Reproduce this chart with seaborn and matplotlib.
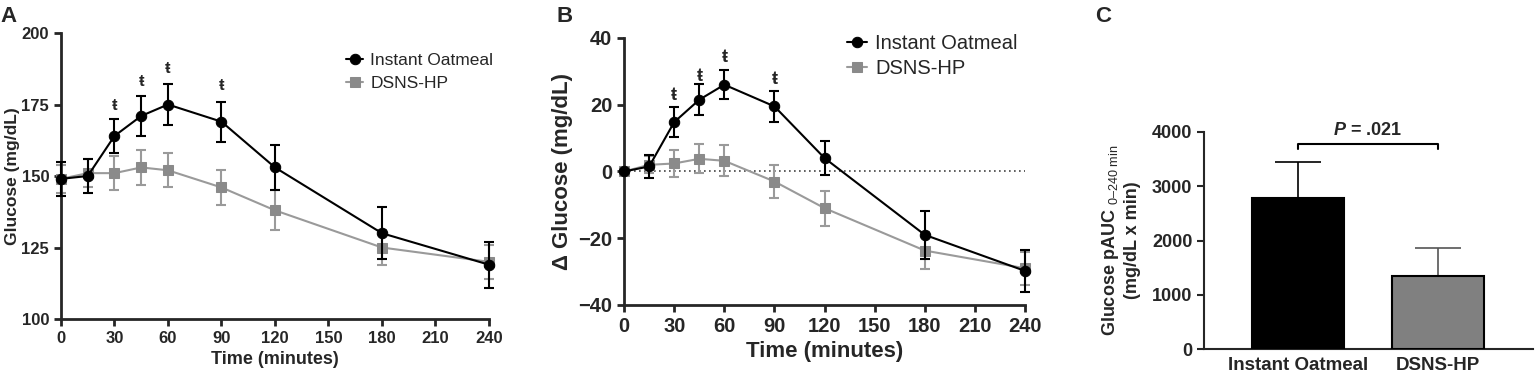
import numpy as np
import pandas as pd
import matplotlib
matplotlib.use("Agg")
import matplotlib.pyplot as plt
import seaborn as sns

sns.set_style("ticks")
plt.rcParams["font.family"] = ["Liberation Sans", "DejaVu Sans"]
plt.rcParams["mathtext.fontset"] = "custom"
plt.rcParams["mathtext.rm"] = "Liberation Sans"
plt.rcParams["mathtext.it"] = "Liberation Sans:italic:bold"

# Datos
time_min = [0, 15, 30, 45, 60, 90, 120, 180, 240]
time_ticks = [0, 30, 60, 90, 120, 150, 180, 210, 240]

oat_glucose = [149, 150, 164, 171, 175, 169, 153, 130, 119]
oat_glucose_se = [6, 6, 6, 7, 7, 7, 8, 9, 8]
dsns_glucose = [149, 151, 151, 153, 152, 146, 138, 125, 120]
dsns_glucose_se = [5, 5, 6, 6, 6, 6, 7, 6, 6]

oat_delta = [0, 1.5, 14.8, 21.5, 26, 19.5, 4, -19, -29.8]
oat_delta_se = [0, 3.5, 4.5, 4.7, 4.3, 4.7, 5.1, 7.1, 6.3]
dsns_delta = [0, 2, 2.4, 3.8, 3.2, -3, -11, -23.7, -29]
dsns_delta_se = [0, 2.5, 4, 4.4, 4.7, 4.8, 5.3, 5.5, 5]

sig_times = [30, 45, 60, 90]
sig_y_a = [174.5, 183, 187.5, 181.5]
sig_y_b = [22.8, 28.5, 34.3, 27.5]

groups = ["Instant Oatmeal", "DSNS-HP"]
pauc = [2780, 1350]
pauc_se = [675, 505]
p_text = "= .021"

BLACK = "#000000"
GREY_LINE = "#9a9a9a"
GREY_MARK = "#8a8a8a"
GREY_BAR = "#808080"

fig = plt.figure(figsize=(15.36, 3.75), dpi=100)
ax_a = fig.add_axes([0.0397, 0.1493, 0.2786, 0.7627])
ax_b = fig.add_axes([0.4063, 0.1867, 0.2611, 0.712])
ax_c = fig.add_axes([0.7839, 0.0693, 0.2142, 0.5787])


def curve_panel(ax, oat, oat_se, dsns, dsns_se, fs_tick, fs_lab):
    df = pd.DataFrame({"t": time_min, "oat": oat, "dsns": dsns})
    ax.errorbar(time_min, dsns, yerr=dsns_se, fmt="none", ecolor=GREY_LINE,
                elinewidth=1.5, capsize=3.5, capthick=1.5, clip_on=False, zorder=2)
    sns.lineplot(data=df, x="t", y="dsns", ax=ax, color=GREY_LINE, lw=1.5,
                 marker="s", markersize=6.5, markerfacecolor=GREY_MARK,
                 markeredgecolor=GREY_MARK, label="DSNS-HP", clip_on=False, zorder=3)
    ax.errorbar(time_min, oat, yerr=oat_se, fmt="none", ecolor=BLACK,
                elinewidth=1.5, capsize=3.5, capthick=1.5, clip_on=False, zorder=4)
    sns.lineplot(data=df, x="t", y="oat", ax=ax, color=BLACK, lw=1.5,
                 marker="o", markersize=7.5, markerfacecolor=BLACK,
                 markeredgecolor=BLACK, label="Instant Oatmeal", clip_on=False, zorder=5)
    ax.set_xlim(0, 240)
    ax.set_xticks(time_ticks)
    ax.set_xlabel("Time (minutes)", fontsize=fs_lab, fontweight="bold")
    for s in ["top", "right"]:
        ax.spines[s].set_visible(False)
    for s in ["left", "bottom"]:
        ax.spines[s].set_linewidth(2)
    ax.tick_params(width=2, length=5, labelsize=fs_tick)
    h, l = ax.get_legend_handles_labels()
    return h, l


h, l = curve_panel(ax_a, oat_glucose, oat_glucose_se, dsns_glucose, dsns_glucose_se, 12, 13)
ax_a.set_ylim(100, 200)
ax_a.set_yticks([100, 125, 150, 175, 200])
ax_a.set_ylabel("Glucose (mg/dL)", fontsize=12.5, fontweight="bold", labelpad=1)
ax_a.legend([h[1], h[0]], [l[1], l[0]], loc="upper left", bbox_to_anchor=(0.65, 0.955),
            frameon=False, fontsize=12.5, handlelength=1.0, handletextpad=0.4,
            labelspacing=0.45, borderaxespad=0)
for t, y in zip(sig_times, sig_y_a):
    ax_a.text(t, y, "ŧ", ha="center", va="center", fontsize=12, fontweight="bold")

h, l = curve_panel(ax_b, oat_delta, oat_delta_se, dsns_delta, dsns_delta_se, 14.5, 16)
ax_b.axhline(0, color="#444444", lw=1.2, ls=(0, (1, 2)), zorder=1)
ax_b.set_ylim(-40, 40)
ax_b.set_yticks([-40, -20, 0, 20, 40])
ax_b.set_ylabel("Δ Glucose (mg/dL)", fontsize=16, fontweight="bold", labelpad=4)
ax_b.legend([h[1], h[0]], [l[1], l[0]], loc="upper left", bbox_to_anchor=(0.535, 1.045),
            frameon=False, fontsize=14.5, handlelength=1.0, handletextpad=0.4,
            labelspacing=0.3, borderaxespad=0)
for t, y in zip(sig_times, sig_y_b):
    ax_b.text(t, y, "ŧ", ha="center", va="center", fontsize=13, fontweight="bold")

for ax in [ax_a, ax_b]:
    for lbl in ax.get_xticklabels() + ax.get_yticklabels():
        lbl.set_fontweight("bold")

# Panel C
dfc = pd.DataFrame({"group": groups, "pauc": pauc})
sns.barplot(data=dfc, x="group", y="pauc", ax=ax_c, hue="group",
            palette=[BLACK, GREY_BAR], width=0.66, edgecolor=BLACK, linewidth=1.5,
            legend=False, zorder=3)
ax_c.errorbar([0], [pauc[0]], yerr=[[0], [pauc_se[0]]], fmt="none", ecolor=BLACK,
              elinewidth=1.2, capsize=16.5, capthick=1.2, zorder=2)
ax_c.errorbar([1], [pauc[1]], yerr=[[0], [pauc_se[1]]], fmt="none", ecolor="#555555",
              elinewidth=1.2, capsize=16.5, capthick=1.2, zorder=2)
ax_c.set_xlim(-0.67, 1.68)
ax_c.set_ylim(0, 4000)
ax_c.set_yticks([0, 1000, 2000, 3000, 4000])
ax_c.set_xlabel("")
ax_c.set_ylabel("Glucose pAUC $_{\\mathrm{0\u2013240\\ min}}$\n(mg/dL x min)",
                fontsize=13, fontweight="bold", labelpad=8)
for s in ["top", "right"]:
    ax_c.spines[s].set_visible(False)
for s in ["left", "bottom"]:
    ax_c.spines[s].set_linewidth(1.5)
ax_c.tick_params(axis="y", width=1.5, length=5, labelsize=13)
ax_c.tick_params(axis="x", length=0, labelsize=13.5, pad=6)
for lbl in ax_c.get_xticklabels() + ax_c.get_yticklabels():
    lbl.set_fontweight("bold")
ax_c.plot([0, 0, 1, 1], [3690, 3780, 3780, 3690], color=BLACK, lw=1.5, clip_on=False)
ax_c.text(0.5, 3880, "$\\it{P}$ " + p_text, ha="center", va="bottom", fontsize=13,
          fontweight="bold")

fig.text(0.0, 0.985, "A", fontsize=16, fontweight="bold", va="top")
fig.text(0.362, 0.985, "B", fontsize=16, fontweight="bold", va="top")
fig.text(0.713, 0.985, "C", fontsize=16, fontweight="bold", va="top")

fig.savefig("out.png", dpi=100)
